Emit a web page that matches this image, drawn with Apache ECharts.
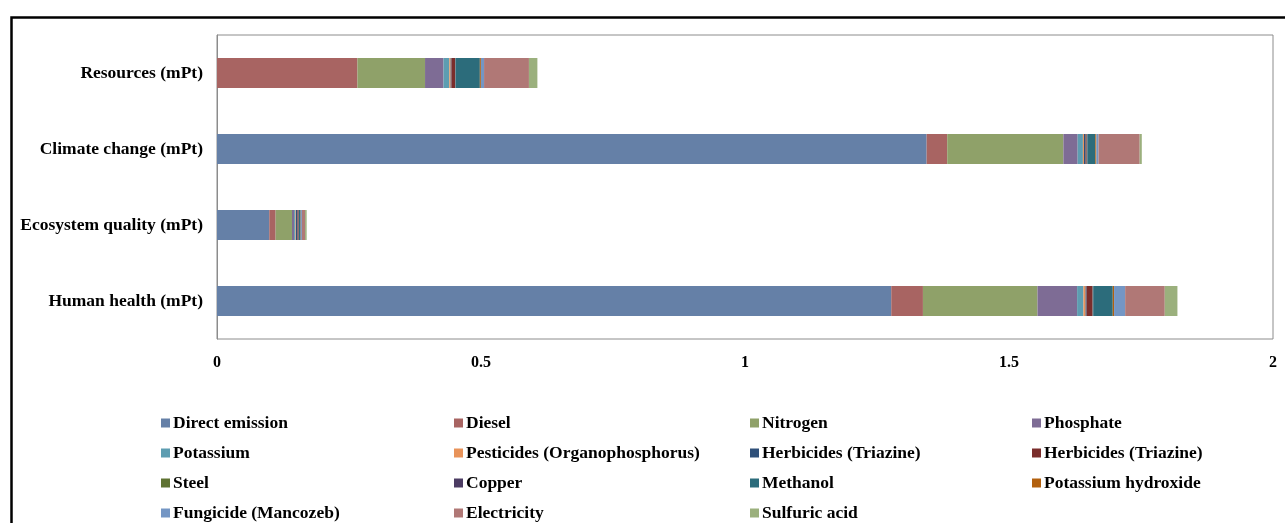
<!DOCTYPE html>
<html>
<head>
<meta charset="utf-8">
<script src="https://cdn.jsdelivr.net/npm/echarts@6/dist/echarts.min.js"></script>
<style>
  html, body { margin: 0; padding: 0; background: #fff; }
  #chart { width: 1285px; height: 523px; }
</style>
</head>
<body>
<div id="chart"></div>
<script>
// categories, bottom to top (category axis runs upward)
const categories = ['Human health (mPt)', 'Ecosystem quality (mPt)', 'Climate change (mPt)', 'Resources (mPt)'];

// series names (second triazine carries a trailing space so the legend keeps them apart)
const seriesNames = [
  'Direct emission', 'Diesel', 'Nitrogen', 'Phosphate', 'Potassium',
  'Pesticides (Organophosphorus)', 'Herbicides (Triazine)', 'Herbicides (Triazine) ',
  'Steel', 'Copper', 'Methanol', 'Potassium hydroxide',
  'Fungicide (Mancozeb)', 'Electricity', 'Sulfuric acid'
];

// values per series: [Human health, Ecosystem quality, Climate change, Resources]
const directEmission = [1.277, 0.099, 1.344, 0];
const diesel = [0.060, 0.012, 0.039, 0.266];
const nitrogen = [0.217, 0.031, 0.220, 0.128];
const phosphate = [0.075, 0.004, 0.027, 0.035];
const potassium = [0.012, 0.0025, 0.010, 0.011];
const pesticides = [0.004, 0.001, 0.002, 0.0025];
const herbicidesBlue = [0.002, 0.003, 0.003, 0.0015];
const herbicidesRed = [0.011, 0.002, 0.002, 0.007];
const steel = [0.0005, 0.0003, 0.0005, 0.0003];
const copper = [0.001, 0.0005, 0.001, 0.0005];
const methanol = [0.037, 0.003, 0.015, 0.046];
const potassiumHydroxide = [0.0025, 0.0005, 0.002, 0.002];
const fungicide = [0.021, 0.002, 0.004, 0.006];
const electricity = [0.075, 0.006, 0.078, 0.085];
const sulfuricAcid = [0.024, 0.003, 0.004, 0.016];

const seriesValues = [
  directEmission, diesel, nitrogen, phosphate, potassium,
  pesticides, herbicidesBlue, herbicidesRed,
  steel, copper, methanol, potassiumHydroxide,
  fungicide, electricity, sulfuricAcid
];

const xTicks = [0, 0.5, 1, 1.5, 2];

const colors = [
  '#6580A7', '#A86462', '#8FA169', '#7E6C95', '#5D9DB1',
  '#E8935A', '#2F5079', '#7A2D2B', '#5E7232', '#4C3C63',
  '#2C6C7B', '#B2600E', '#7496C4', '#B07876', '#9BB07D'
];

// legend columns, left to right
const legendCols = [
  ['Direct emission', 'Potassium', 'Steel', 'Fungicide (Mancozeb)'],
  ['Diesel', 'Pesticides (Organophosphorus)', 'Copper', 'Electricity'],
  ['Nitrogen', 'Herbicides (Triazine)', 'Methanol', 'Sulfuric acid'],
  ['Phosphate', 'Herbicides (Triazine) ', 'Potassium hydroxide']
];
const legendLeft = [161, 454, 750, 1032];

const chart = echarts.init(document.getElementById('chart'));

const font = 'Liberation Serif';
const series = seriesNames.map((name, i) => ({
  name: name,
  type: 'bar',
  stack: 'total',
  barWidth: 30,
  data: seriesValues[i],
  itemStyle: { color: colors[i] },
  emphasis: { disabled: true }
}));

const option = {
  animation: false,
  color: colors,
  grid: {
    left: 217,
    right: 12,
    top: 35,
    bottom: 184,
    show: true,
    borderColor: '#8c8c8c',
    borderWidth: 1
  },
  xAxis: {
    type: 'value',
    min: 0,
    max: 2,
    interval: 0.5,
    axisLine: { show: false },
    axisTick: { show: false },
    splitLine: { show: false },
    axisLabel: {
      margin: 16,
      color: '#000',
      fontFamily: font,
      fontWeight: 'bold',
      fontSize: 16,
      formatter: (v) => String(xTicks.find((t) => Math.abs(t - v) < 1e-9) ?? v)
    }
  },
  yAxis: {
    type: 'category',
    data: categories,
    axisLine: { show: true, lineStyle: { color: '#8c8c8c' } },
    axisTick: { show: false },
    axisLabel: {
      margin: 14,
      color: '#000',
      fontFamily: font,
      fontWeight: 'bold',
      fontSize: 17.5
    }
  },
  legend: legendCols.map((col, i) => ({
    orient: 'vertical',
    left: legendLeft[i],
    top: 414,
    height: 140,
    padding: 0,
    data: col,
    icon: 'rect',
    itemWidth: 9,
    itemHeight: 9,
    itemGap: 12,
    selectedMode: false,
    textStyle: {
      color: '#000',
      fontFamily: font,
      fontWeight: 'bold',
      fontSize: 17.5,
      padding: [0, 0, 0, -2]
    }
  })),
  graphic: [{
    type: 'rect',
    left: 9,
    top: 15,
    shape: { width: 1300, height: 540 },
    style: { fill: 'none', stroke: '#000', lineWidth: 2.5 },
    silent: true
  }],
  series: series
};

chart.setOption(option);
</script>
</body>
</html>
